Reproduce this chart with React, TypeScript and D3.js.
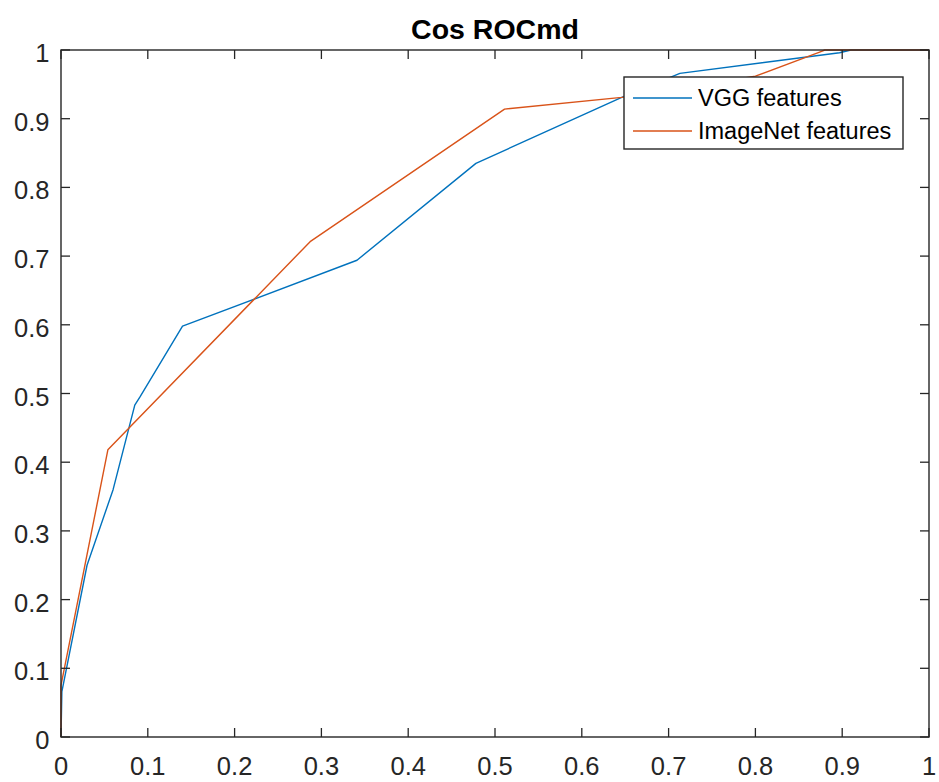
import React from "react";
import * as d3 from "d3";

const TITLE = "Cos ROCmd";
const SERIES_NAMES = ["VGG features", "ImageNet features"];
const SERIES_COLORS = ["#0072BD", "#D95319"];

const vggX = [0, 0.001, 0.03, 0.06, 0.085, 0.091, 0.14, 0.341, 0.478, 0.646, 0.713, 0.897, 0.91, 1];
const vggY = [0, 0.066, 0.25, 0.36, 0.483, 0.495, 0.598, 0.694, 0.835, 0.931, 0.966, 0.996, 1, 1];

const imgX = [0, 0, 0.054, 0.287, 0.511, 0.646, 0.8, 0.874, 0.88, 1];
const imgY = [0, 0.075, 0.418, 0.721, 0.914, 0.931, 0.962, 0.997, 1, 1];

const xTicks = [0, 0.1, 0.2, 0.3, 0.4, 0.5, 0.6, 0.7, 0.8, 0.9, 1];
const yTicks = [0, 0.1, 0.2, 0.3, 0.4, 0.5, 0.6, 0.7, 0.8, 0.9, 1];
const xTickLabels = ["0", "0.1", "0.2", "0.3", "0.4", "0.5", "0.6", "0.7", "0.8", "0.9", "1"];
const yTickLabels = ["0", "0.1", "0.2", "0.3", "0.4", "0.5", "0.6", "0.7", "0.8", "0.9", "1"];

export default function App() {
  const W = 939, H = 782;
  const left = 61, right = 929, top = 50, bottom = 737;
  const x = d3.scaleLinear().domain([0, 1]).range([left, right]);
  const y = d3.scaleLinear().domain([0, 1]).range([bottom, top]);
  const line = d3.line<[number, number]>().x(d => x(d[0])).y(d => y(d[1]));
  const series = [
    d3.zip(vggX, vggY) as [number, number][],
    d3.zip(imgX, imgY) as [number, number][],
  ];
  const axisColor = "#262626";
  const font = "'Liberation Sans', Arial, Helvetica, sans-serif";
  const tickLen = 9;

  const lg = { x0: 624, y0: 77, x1: 903, y1: 149 };

  return (
    <svg width={W} height={H} style={{ position: "absolute", left: 0, top: 0, background: "#fff" }} fontFamily={font}>
      <rect x={0} y={0} width={W} height={H} fill="#fff" />
      <rect x={left} y={top} width={right - left} height={bottom - top} fill="#fff" />
      {series.map((s, i) => (
        <path key={i} d={line(s) || ""} fill="none" stroke={SERIES_COLORS[i]} strokeWidth={1.4} strokeLinejoin="round" />
      ))}
      <rect x={left} y={top} width={right - left} height={bottom - top} fill="none" stroke={axisColor} strokeWidth={1.4} />
      {xTicks.map((t, i) => (
        <g key={"xt" + i}>
          <line x1={x(t)} x2={x(t)} y1={bottom} y2={bottom - tickLen} stroke={axisColor} strokeWidth={1.3} />
          <line x1={x(t)} x2={x(t)} y1={top} y2={top + tickLen} stroke={axisColor} strokeWidth={1.3} />
          <text x={x(t)} y={bottom + 38} textAnchor="middle" fontSize={25.5} fill={axisColor}>{xTickLabels[i]}</text>
        </g>
      ))}
      {yTicks.map((t, i) => (
        <g key={"yt" + i}>
          <line x1={left} x2={left + tickLen} y1={y(t)} y2={y(t)} stroke={axisColor} strokeWidth={1.3} />
          <line x1={right} x2={right - tickLen} y1={y(t)} y2={y(t)} stroke={axisColor} strokeWidth={1.3} />
          <text x={49.5} y={y(t) + 12} textAnchor="end" fontSize={25.5} fill={axisColor}>{yTickLabels[i]}</text>
        </g>
      ))}
      <text x={(left + right) / 2} y={39} textAnchor="middle" fontSize={28.5} fontWeight="bold" fill="#000">{TITLE}</text>
      <rect x={lg.x0} y={lg.y0} width={lg.x1 - lg.x0} height={lg.y1 - lg.y0} fill="#fff" stroke={axisColor} strokeWidth={1.4} />
      {SERIES_NAMES.map((n, i) => (
        <g key={"lg" + i}>
          <line x1={633} x2={692} y1={98 + i * 33} y2={98 + i * 33} stroke={SERIES_COLORS[i]} strokeWidth={1.4} />
          <text x={698} y={106 + i * 33} fontSize={23.5} fill="#000">{n}</text>
        </g>
      ))}
    </svg>
  );
}
